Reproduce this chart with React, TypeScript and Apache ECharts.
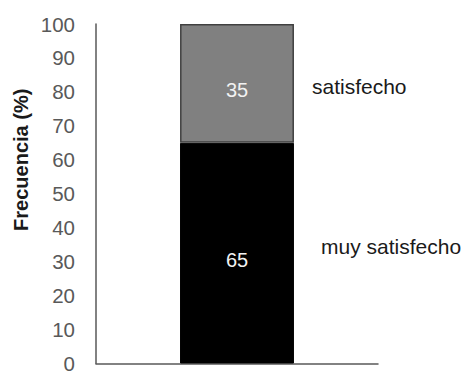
import React, { useEffect, useRef } from "react";
import * as echarts from "echarts";

const categories = [""];
const seriesNames = ["muy satisfecho", "satisfecho"];
const muySatisfecho = [65];
const satisfecho = [35];
const yTicks = { min: 0, max: 100, interval: 10 };
const yAxisTitle = "Frecuencia (%)";

const FONT = "'Liberation Sans', Arial, sans-serif";

export default function App() {
  const ref = useRef<HTMLDivElement>(null);
  useEffect(() => {
    if (!ref.current) return;
    const chart = echarts.init(ref.current, null, { renderer: "svg" });
    const labelStyle = {
      show: true,
      position: "inside",
      color: "#f2f2f2",
      fontSize: 20,
      fontFamily: FONT,
      offset: [0, 7],
    };
    chart.setOption({
      animation: false,
      backgroundColor: "#ffffff",
      grid: { left: 96, right: 90, top: 24, bottom: 5, containLabel: false },
      xAxis: {
        type: "category",
        data: categories,
        axisTick: { show: false },
        axisLabel: { show: false },
        axisLine: { lineStyle: { color: "#595959", width: 1.5 } },
      },
      yAxis: {
        type: "value",
        min: yTicks.min,
        max: yTicks.max,
        interval: yTicks.interval,
        splitLine: { show: false },
        axisTick: { show: false },
        axisLine: { show: true, lineStyle: { color: "#595959", width: 1.5 } },
        axisLabel: { color: "#595959", fontSize: 20.5, fontFamily: FONT, margin: 21 },
      },
      series: [
        {
          name: seriesNames[0],
          type: "bar",
          stack: "total",
          barWidth: "40.4%",
          data: muySatisfecho,
          itemStyle: { color: "#000000", borderColor: "#000000", borderWidth: 1 },
          label: labelStyle,
        },
        {
          name: seriesNames[1],
          type: "bar",
          stack: "total",
          barWidth: "40.4%",
          data: satisfecho,
          itemStyle: { color: "#808080", borderColor: "#404040", borderWidth: 1.5 },
          label: labelStyle,
        },
      ],
    });

    const bottomMid = muySatisfecho[0] / 2;
    const topMid = muySatisfecho[0] + satisfecho[0] / 2;
    const pBottom = chart.convertToPixel({ gridIndex: 0 }, [0, bottomMid]) as number[];
    const pTop = chart.convertToPixel({ gridIndex: 0 }, [0, topMid]) as number[];
    const p0 = chart.convertToPixel({ gridIndex: 0 }, [0, yTicks.min]) as number[];
    const p100 = chart.convertToPixel({ gridIndex: 0 }, [0, yTicks.max]) as number[];

    chart.setOption({
      graphic: [
        {
          type: "text",
          x: 21,
          y: p100[1] + (p0[1] - p100[1]) * 0.4,
          rotation: Math.PI / 2,
          style: {
            text: yAxisTitle,
            font: `bold 20px ${FONT}`,
            fill: "#1a1a1a",
            textAlign: "center",
            textVerticalAlign: "middle",
          },
        },
        {
          type: "text",
          x: pTop[0] + 75,
          y: pTop[1] + 3,
          style: {
            text: seriesNames[1],
            font: `21px ${FONT}`,
            fill: "#1a1a1a",
            textAlign: "left",
            textVerticalAlign: "middle",
          },
        },
        {
          type: "text",
          x: pBottom[0] + 84,
          y: pBottom[1] - 7,
          style: {
            text: seriesNames[0],
            font: `21px ${FONT}`,
            fill: "#1a1a1a",
            textAlign: "left",
            textVerticalAlign: "middle",
          },
        },
      ],
    });
    return () => chart.dispose();
  }, []);
  return <div ref={ref} style={{ width: 468, height: 374, position: "absolute", left: 0, top: 0 }} />;
}
